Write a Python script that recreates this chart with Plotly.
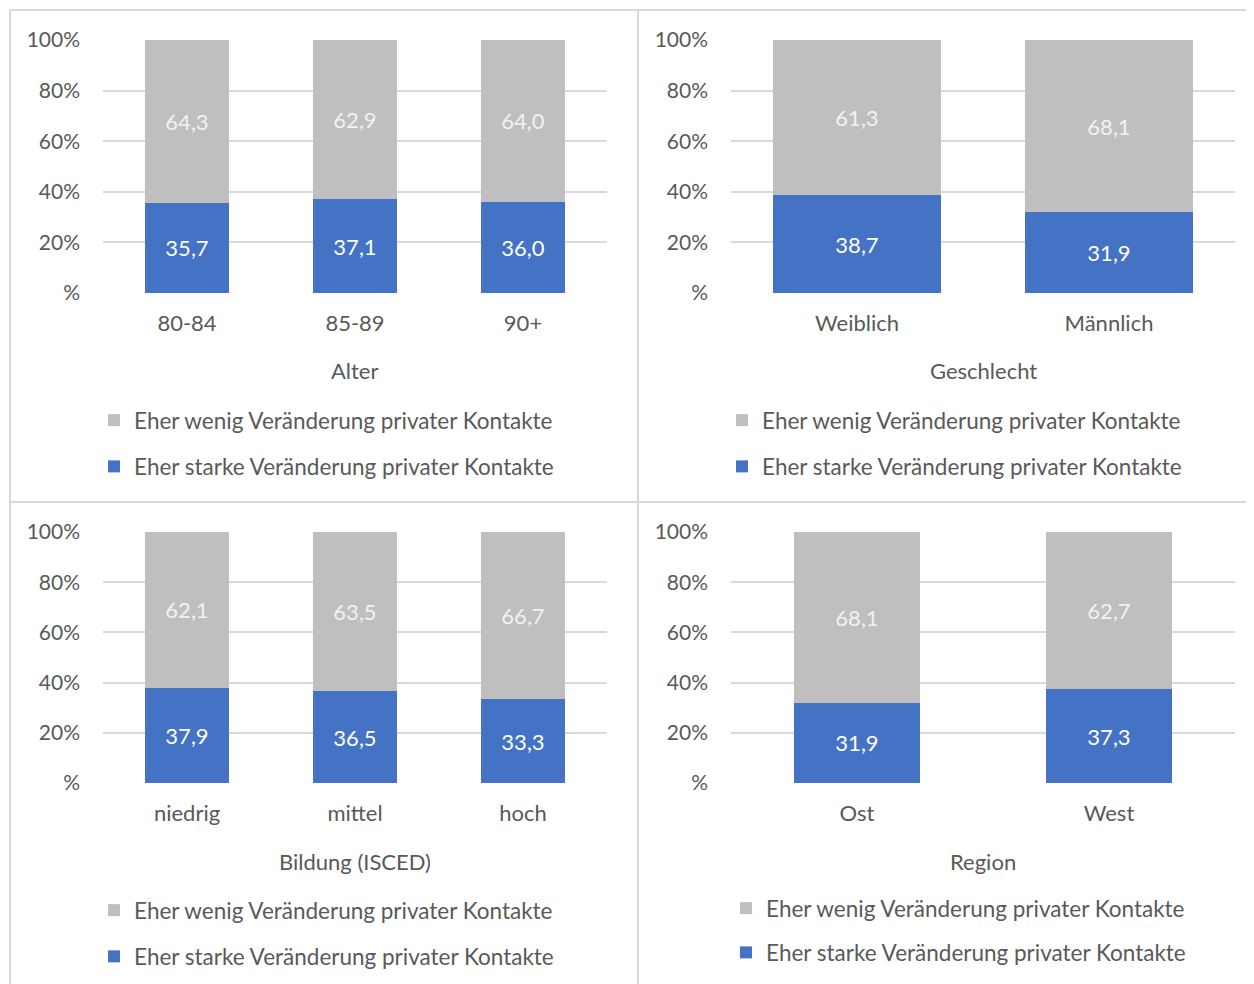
import plotly.graph_objects as go

# ---- data ----
alter_cats = ["80-84", "85-89", "90+"]
alter_stark = [35.7, 37.1, 36.0]
alter_wenig = [64.3, 62.9, 64.0]

geschlecht_cats = ["Weiblich", "Männlich"]
geschlecht_stark = [38.7, 31.9]
geschlecht_wenig = [61.3, 68.1]

bildung_cats = ["niedrig", "mittel", "hoch"]
bildung_stark = [37.9, 36.5, 33.3]
bildung_wenig = [62.1, 63.5, 66.7]

region_cats = ["Ost", "West"]
region_stark = [31.9, 37.3]
region_wenig = [68.1, 62.7]

axis_titles = ["Alter", "Geschlecht", "Bildung (ISCED)", "Region"]
series_names = ["Eher starke Veränderung privater Kontakte",
                "Eher wenig Veränderung privater Kontakte"]
ytick_vals = [0, 20, 40, 60, 80, 100]
ytick_text = ["%", "20%", "40%", "60%", "80%", "100%"]

OFF = 8  # page body margin
W, H = 1254 - OFF, 984 - OFF
FONT = "Lato"
TXT = "#595959"
BLUE = "#4472c4"
GREY = "#bfbfbf"
GRID = "#d9d9d9"


def fmt(v):
    return f"{v:.1f}".replace(".", ",")


def px(x):
    return (x - OFF) / W


def py(y):
    return 1 - (y - OFF) / H


panels = [
    dict(cats=alter_cats, stark=alter_stark, wenig=alter_wenig, x0=103, x1=607, yt=40, yb=293, bw=0.5,
         lx=94, ly=399, ty=371, gap=14),
    dict(cats=geschlecht_cats, stark=geschlecht_stark, wenig=geschlecht_wenig, x0=731, x1=1235, yt=40, yb=293,
         bw=0.667, lx=722, ly=399, ty=371, gap=14),
    dict(cats=bildung_cats, stark=bildung_stark, wenig=bildung_wenig, x0=103, x1=607, yt=532, yb=783, bw=0.5,
         lx=94, ly=889, ty=861, gap=14),
    dict(cats=region_cats, stark=region_stark, wenig=region_wenig, x0=731, x1=1235, yt=532, yb=783, bw=0.5,
         lx=726, ly=887, ty=861, gap=12),
]

fig = go.Figure()
layout = dict(
    width=W, height=H, margin=dict(l=0, r=0, t=0, b=0, autoexpand=False),
    paper_bgcolor="white", plot_bgcolor="white",
    barmode="stack", showlegend=True,
    font=dict(family=FONT, size=22, color=TXT),
    annotations=[], shapes=[],
)

for i, p in enumerate(panels):
    n = "" if i == 0 else str(i + 1)
    xa, ya = "x" + n, "y" + n
    lg = "legend" + n
    fig.add_trace(go.Bar(
        x=p["cats"], y=p["stark"], name=series_names[0], marker=dict(color=BLUE, line=dict(width=0)),
        width=p["bw"], text=[fmt(v) for v in p["stark"]], textposition="inside",
        insidetextanchor="middle", textfont=dict(color="white", size=22, family=FONT),
        xaxis=xa, yaxis=ya, legend=lg, legendgroup=f"s{i}", legendrank=2, hoverinfo="skip",
    ))
    fig.add_trace(go.Bar(
        x=p["cats"], y=p["wenig"], name=series_names[1], marker=dict(color=GREY, line=dict(width=0)),
        width=p["bw"], text=[fmt(v) for v in p["wenig"]], textposition="inside",
        insidetextanchor="middle", textfont=dict(color="#f2f2f2", size=22, family=FONT),
        xaxis=xa, yaxis=ya, legend=lg, legendgroup=f"w{i}", legendrank=1, hoverinfo="skip",
    ))
    layout["xaxis" + n] = dict(
        domain=[px(p["x0"]), px(p["x1"])], anchor=ya, type="category", automargin=False,
        showgrid=False, zeroline=False, showline=False, ticks="",
        ticklabelstandoff=15, tickfont=dict(size=22, color=TXT, family=FONT),
        fixedrange=True,
    )
    layout["yaxis" + n] = dict(
        domain=[py(p["yb"]), py(p["yt"])], anchor=xa, range=[0, 100], automargin=False,
        tickvals=ytick_vals, ticktext=ytick_text, showgrid=True, gridcolor=GRID, gridwidth=2,
        zeroline=False, showline=False, ticks="", ticklabelstandoff=22,
        tickfont=dict(size=21, color=TXT, family=FONT), fixedrange=True,
    )
    layout[lg] = dict(
        x=px(p["lx"]), xanchor="left", y=py(p["ly"]), yanchor="top",
        traceorder="grouped", tracegroupgap=p["gap"], bgcolor="rgba(0,0,0,0)",
        font=dict(size=22.5, color=TXT, family=FONT), itemclick=False, itemdoubleclick=False,
    )
    layout["annotations"].append(dict(
        text=axis_titles[i], xref="paper", yref="paper", x=px((p["x0"] + p["x1"]) / 2), y=py(p["ty"]),
        xanchor="center", yanchor="middle", showarrow=False, font=dict(size=22, color=TXT, family=FONT),
    ))

# panel borders
border = dict(type="line", xref="paper", yref="paper", line=dict(color=GRID, width=2))
for (x0, y0, x1, y1) in [(10, 10, 1254, 10), (10, 502, 1254, 502), (10, 10, 10, 984), (638, 10, 638, 984)]:
    layout["shapes"].append(dict(border, x0=px(x0), y0=py(y0), x1=px(x1), y1=py(y1)))

fig.update_layout(**layout)
fig.write_html("out.html", config={"displayModeBar": False})
